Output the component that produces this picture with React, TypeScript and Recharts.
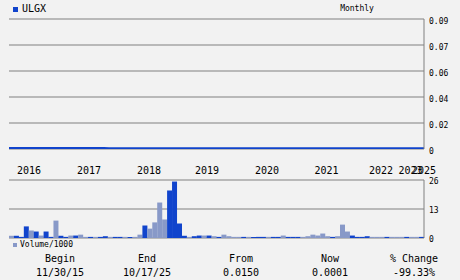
import { BarChart, Bar, Cell, LineChart, Line, XAxis, YAxis, CartesianGrid } from 'recharts';

const DARK = '#1144cc';
const LIGHT = '#8899c8';
const GRID = '#808080';
const MONO = '"DejaVu Sans Mono", monospace';

// monthly close, flat near zero for the whole range
const price = [
  0.0003, 0.0003, 0.0003, 0.0003, 0.0003, 0.0003, 0.0003, 0.0003, 0.0003, 0.0003,
  0.0003, 0.0003, 0.0003, 0.0003, 0.0003, 0.0003, 0.0003, 0.0003, 0.0003, 0.0003,
  0.0002, 0.0002, 0.0002, 0.0002, 0.0002, 0.0002, 0.0002, 0.0002, 0.0002, 0.0002,
  0.0002, 0.0002, 0.0002, 0.0002, 0.0002, 0.0002, 0.0002, 0.0002, 0.0002, 0.0002,
  0.0001, 0.0001, 0.0001, 0.0001, 0.0001, 0.0001, 0.0001, 0.0001, 0.0001, 0.0001,
  0.0001, 0.0001, 0.0001, 0.0001, 0.0001, 0.0001, 0.0001, 0.0001, 0.0001, 0.0001,
  0.0001, 0.0001, 0.0001, 0.0001, 0.0001, 0.0001, 0.0001, 0.0001, 0.0001, 0.0001,
  0.0001, 0.0001, 0.0001, 0.0001, 0.0001, 0.0001, 0.0001, 0.0001, 0.0001, 0.0001,
  0.0001, 0.0001, 0.0001, 0.0001,
];

// volume / 1000
const volume = [
  1, 1, 0.5, 5.2, 3.4, 2.9, 1.1, 2.9, 0.5, 7.8,
  1, 0.5, 1.1, 1.1, 1.5, 0.5, 0.5, 0.5, 0.5, 0.8,
  0.5, 0.5, 0.5, 0.5, 0.5, 0.5, 1.5, 5.6, 4.2, 7,
  15.9, 8.3, 21.3, 25.3, 6.5, 1, 0.5, 0.8, 1.1, 1.1,
  1.1, 0.8, 0.5, 1.5, 0.8, 0.5, 0.5, 0.5, 0.5, 0.5,
  0.5, 0.5, 0.5, 0.5, 0.5, 1.1, 0.5, 0.5, 0.5, 0.5,
  0.8, 1.5, 1.1, 2, 0.8, 0.5, 0.8, 6, 2.9, 1.1,
  0.5, 0.5, 0.8, 0.5, 0.5, 0.5, 0.5, 0.5, 0.5, 0.5,
  0.5, 0.5, 0.5, 0.5,
];
// D = dark (up month), L = light (down month)
const volTone = (
  'LDDDLDLDDL' + 'DDLDLLDLDD' + 'LDDLDLLDLL' + 'LLDDDDLDDL' + 'DLDLLLLDLD' +
  'DDLDDLDDDL' + 'LLLLLDLLLD' + 'DDDLLLDLLL' + 'DLLD'
).split('');

const yearTicks = [4, 16, 28, 39.6, 51.6, 63.5, 74.4, 80.3, 83];
const yearLabels = ['2016', '2017', '2018', '2019', '2020', '2021', '2022', '2023', '2025'];

const priceTicks = [0, 0.018, 0.036, 0.054, 0.072, 0.09];
const priceLabels = ['0', '0.02', '0.04', '0.06', '0.07', '0.09'];

const volTicks = [0, 13, 26];
const volLabels = ['0', '13', '26'];

const statHeads = ['Begin', 'End', 'From', 'Now', '% Change'];
const statValues = ['11/30/15', '10/17/25', '0.0150', '0.0001', '-99.33%'];
const statX = [60, 147, 241, 330, 414];

const priceData = price.map((p, i) => ({ i, price: p }));
const volData = volume.map((v, i) => ({ i, v }));

function makeTick(labels: string[], dy: number) {
  return (props: any) => (
    <text x={props.x} y={props.y + dy} fontSize={8} fontFamily={MONO} fill="#000" textAnchor="start">
      {labels[props.index]}
    </text>
  );
}

function YearTick(props: any) {
  return (
    <text x={props.x} y={props.y + 25} fontSize={10} fontFamily={MONO} fill="#000" textAnchor="middle">
      {yearLabels[props.index]}
    </text>
  );
}

function Label({ x, y, size, children, anchor = 'center' }: any) {
  const tx = anchor === 'center' ? '-50%' : anchor === 'right' ? '-100%' : '0';
  return (
    <span style={{ position: 'absolute', left: x, top: y, fontSize: size, lineHeight: 1, whiteSpace: 'pre', color: '#000', transform: `translate(${tx}, -50%)` }}>
      {children}
    </span>
  );
}

export default function App() {
  return (
    <div style={{ position: 'absolute', left: 0, top: 0, width: 460, height: 280, background: '#f2f2f2', fontFamily: MONO, overflow: 'hidden' }}>
      <div style={{ position: 'absolute', left: 0, top: 0 }}>
        <LineChart width={460} height={180} data={priceData} margin={{ top: 19, right: 0, left: 9, bottom: 0 }}>
          <CartesianGrid vertical={false} stroke={GRID} strokeWidth={1} />
          <XAxis dataKey="i" type="number" domain={[0, 83]} ticks={yearTicks} height={31} axisLine={false} tickLine={false} tickSize={0} tickMargin={0} tick={<YearTick />} interval={0} />
          <YAxis yAxisId="b" orientation="left" width={0} tick={false} tickLine={false} axisLine={{ stroke: GRID }} />
          <YAxis orientation="right" width={36} domain={[0, 0.09]} ticks={priceTicks} allowDataOverflow tickLine={false} tickSize={0} tickMargin={5} axisLine={{ stroke: GRID }} tick={makeTick(priceLabels, 5)} interval={0} />
          <Line dataKey="price" stroke={DARK} strokeWidth={3} dot={false} isAnimationActive={false} />
        </LineChart>
      </div>
      <div style={{ position: 'absolute', left: 0, top: 160 }}>
        <BarChart width={460} height={120} data={volData} margin={{ top: 20, right: 0, left: 9, bottom: 42 }} barCategoryGap={0} barGap={0}>
          <CartesianGrid vertical={false} stroke={GRID} strokeWidth={1} />
          <XAxis dataKey="i" hide />
          <YAxis yAxisId="b" orientation="left" width={0} tick={false} tickLine={false} axisLine={{ stroke: GRID }} />
          <YAxis orientation="right" width={36} domain={[0, 26]} ticks={volTicks} tickLine={false} tickSize={0} tickMargin={5} axisLine={{ stroke: GRID }} tick={makeTick(volLabels, 3.5)} interval={0} />
          <Bar dataKey="v" isAnimationActive={false}>
            {volData.map((d) => (
              <Cell key={d.i} fill={volTone[d.i] === 'D' ? DARK : LIGHT} />
            ))}
          </Bar>
        </BarChart>
      </div>

      <div style={{ position: 'absolute', left: 13, top: 7, width: 5, height: 5, background: DARK }} />
      <Label x={22} y={9} size={10} anchor="left">ULGX</Label>
      <Label x={357} y={9} size={8}>Monthly</Label>

      <div style={{ position: 'absolute', left: 13, top: 243, width: 4, height: 4, background: LIGHT }} />
      <Label x={20} y={245} size={8} anchor="left">Volume/1000</Label>

      {statHeads.map((h, k) => (
        <Label key={h} x={statX[k]} y={259} size={10}>{h}</Label>
      ))}
      {statValues.map((v, k) => (
        <Label key={v} x={statX[k]} y={273} size={10}>{v}</Label>
      ))}
    </div>
  );
}
